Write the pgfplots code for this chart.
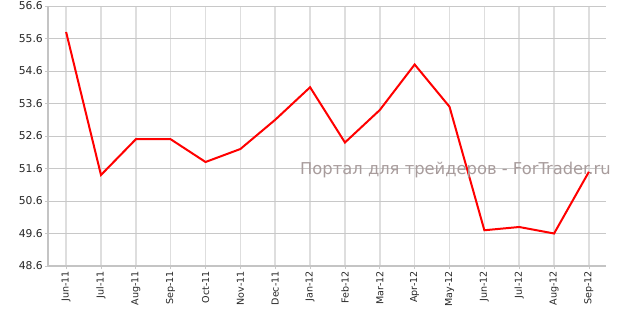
\documentclass[border=0pt]{standalone}
\usepackage{pgfplots}
\pgfplotsset{compat=1.18}
\usepackage{fontspec}
\setmainfont{DejaVu Sans}
\definecolor{gridh}{HTML}{C8C8C8}
\definecolor{gridv}{HTML}{DEDEDE}
\definecolor{axisc}{HTML}{C4C4C4}
\definecolor{wm}{HTML}{A89C9C}
\begin{document}
\begin{tikzpicture}[x=1bp,y=1bp]
\begin{axis}[
  scale only axis,
  width=558bp, height=260bp,
  xmin=-0.52, xmax=15.49,
  ymin=48.6, ymax=56.6,
  ytick={48.6,49.6,...,56.6},
  yticklabel style={/pgf/number format/fixed,/pgf/number format/fixed zerofill,/pgf/number format/precision=1},
  /pgf/number format/assume math mode=true,
  xtick={0,...,15},
  xticklabels={Jun-11,Jul-11,Aug-11,Sep-11,Oct-11,Nov-11,Dec-11,Jan-12,Feb-12,Mar-12,Apr-12,May-12,Jun-12,Jul-12,Aug-12,Sep-12},
  x tick label style={rotate=90,anchor=east,font=\fontsize{9.6}{11}\selectfont,inner sep=2bp},
  y tick label style={font=\fontsize{10.8}{12}\selectfont,inner sep=2bp},
  tick label style={text=black!85},
  axis x line*=bottom, axis y line*=left,
  axis line style={axisc,line width=2.2bp,-},
  tick style={gridh,line width=0.8bp},
  tick align=outside,
  major tick length=3bp,
  grid=major,
  x grid style={gridv,line width=1.6bp},
  y grid style={gridh,line width=0.9bp},
  clip=false,
]
\addplot[red,line width=2bp,mark=none] coordinates {
 (0,55.8) (1,51.4) (2,52.5) (3,52.5) (4,51.8) (5,52.2) (6,53.1) (7,54.1)
 (8,52.4) (9,53.4) (10,54.8) (11,53.5) (12,49.7) (13,49.8) (14,49.6) (15,51.5)
};
\node[text=wm,font=\fontsize{16.4}{19}\selectfont,anchor=west,inner sep=0pt] at (axis cs:6.71,51.56) {Портал для трейдеров - ForTrader.ru};
\end{axis}
\pgfresetboundingbox
\path (current axis.south west) ++(-48bp,-47bp) coordinate (bbsw);
\path (current axis.north east) ++(11bp,6bp) coordinate (bbne);
\path[use as bounding box] (bbsw) rectangle (bbne);
\end{tikzpicture}
\end{document}
